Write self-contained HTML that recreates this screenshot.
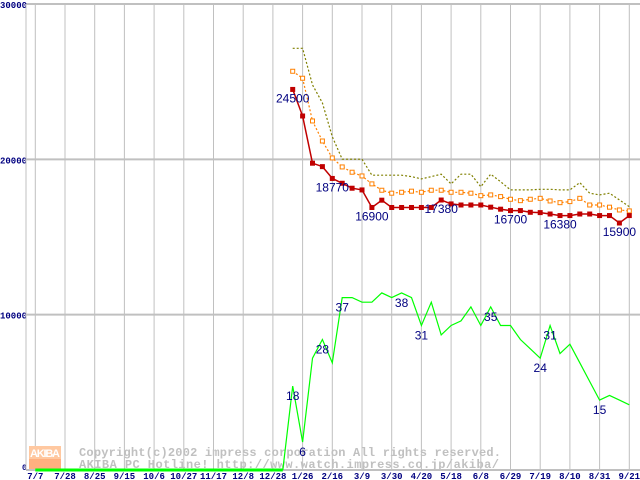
<!DOCTYPE html>
<html><head><meta charset="utf-8"><style>
html,body{margin:0;padding:0;background:#fff;}
svg{display:block;}
</style></head><body>
<svg id="chart" width="640" height="480" xmlns="http://www.w3.org/2000/svg"></svg>
<script>
const tickLabels=["7/7","7/28","8/25","9/15","10/6","10/27","11/17","12/8","12/28","1/26","2/16","3/9","3/30","4/20","5/18","6/8","6/29","7/19","8/10","8/31","9/21"];
const yTicks=[0,10000,20000,30000];
const priceStart=26;
const minPrice=[24500,22790,19750,19530,18770,18460,18140,18030,16900,17370,16900,16900,16900,16900,16900,17380,17130,17060,17060,17060,16920,16790,16700,16700,16590,16570,16480,16380,16380,16480,16480,16380,16380,15900,16380];
const avgPrice=[25670,25220,22470,21180,20090,19510,19170,18930,18420,18010,17820,17880,17950,17880,18010,18010,17880,17880,17820,17660,17710,17600,17430,17340,17430,17490,17320,17210,17280,17490,17060,17060,16920,16740,16680];
const maxPrice=[27150,27150,24790,23630,21460,20010,20010,20010,18980,18980,18980,18980,18890,18740,18890,19040,18420,19040,19040,18240,19040,18560,18030,18030,18030,18070,18070,18030,18030,18500,17820,17710,17820,17390,16950];
const shopCount=[0,0,0,0,0,0,0,0,0,0,0,0,0,0,0,0,0,0,0,0,0,0,0,0,0,0,18,6,24,28,23,37,37,36,36,38,37,38,37,31,36,29,31,32,35,31,35,31,31,28,26,24,31,25,27,23,19,15,16,15,14];
const priceLabelIdx=[26,30,34,41,48,53,59];
const priceLabelText=["24500","18770","16900","17380","16700","16380","15900"];
const countLabelIdx=[26,27,29,31,37,39,46,51,52,57];
const countLabelText=["18","6","28","37","38","31","35","24","31","15"];
const NS="http://www.w3.org/2000/svg";
const svg=document.getElementById('chart');
const X0=35.3,DX=9.9,Y0=470,YT=4;
function xs(i){return X0+i*DX;}
function ys(v){return Y0-(v/30000)*(Y0-YT);}
function yc(c){return ys(c*300);}
function mk(t,a){const e=document.createElementNS(NS,t);for(const k in a)e.setAttribute(k,a[k]);svg.appendChild(e);return e;}
// grid
yTicks.forEach((v,k)=>{
  const l=mk('line',{x1:26,x2:640,y1:ys(v),y2:ys(v),stroke:'#c0c0c0','stroke-width':2});
  
  
  const t=mk('text',{x:v===0?22:0,y:ys(v)+(v===0?0:4),'font-family':'Liberation Mono, monospace','font-size':v===0?8:9,'font-weight':'bold',fill:'#000080'});
  t.textContent=String(v);
  
  
});
const ax=mk('line',{x1:26,x2:26,y1:4,y2:470,stroke:'#c0c0c0','stroke-width':1});


tickLabels.forEach((lab,k)=>{
  const x=xs(k*3);
  const l=mk('line',{x1:x,x2:x,y1:4,y2:470,stroke:'#c0c0c0','stroke-width':1});
  
  
  const t=mk('text',{x:x,y:479,'text-anchor':'middle','font-family':'Liberation Mono, monospace','font-size':9,'font-weight':'bold',fill:'#000080'});
  t.textContent=lab;
  
  
});
// watermark
const lg=mk('rect',{x:29,y:446,width:32,height:13,fill:'#ffc8a0'});


const lg2=mk('rect',{x:29,y:459,width:32,height:10,fill:'#ffb080'});


const lt=mk('text',{x:30,y:457,'font-family':'Liberation Sans, sans-serif','font-size':11,'font-weight':'bold',fill:'#fff',textLength:30});
lt.textContent='AKIBA';


const w1=mk('text',{x:79,y:456,'font-family':'Liberation Mono, monospace','font-size':12,'font-weight':'bold',fill:'#c0c0c0',textLength:422,lengthAdjust:'spacing'});
w1.textContent='Copyright(c)2002 impress corporation All rights reserved.';


const w2=mk('text',{x:79,y:468,'font-family':'Liberation Mono, monospace','font-size':12,'font-weight':'bold',fill:'#c0c0c0',textLength:420,lengthAdjust:'spacing'});
w2.textContent='AKIBA PC Hotline!  http://www.watch.impress.co.jp/akiba/';


// series
function pts(arr,start,f){return arr.map((v,i)=>xs(start+i).toFixed(1)+','+f(v).toFixed(1)).join(' ');}
const g0=mk('polyline',{points:pts(shopCount.slice(0,26),0,yc),fill:'none',stroke:'#00ff00','stroke-width':3});


const g=mk('polyline',{points:pts(shopCount.slice(25),25,yc),fill:'none',stroke:'#00ff00','stroke-width':1.2});


const mx=mk('polyline',{points:pts(maxPrice,priceStart,ys),fill:'none',stroke:'#808000','stroke-width':1.2,'stroke-dasharray':'2,2'});


const av=mk('polyline',{points:pts(avgPrice,priceStart,ys),fill:'none',stroke:'#ff8000','stroke-width':1.2,'stroke-dasharray':'2,2'});


avgPrice.forEach((v,i)=>{
  const r=mk('rect',{x:xs(priceStart+i)-2,y:ys(v)-2,width:4,height:4,fill:'#fff',stroke:'#ff8000','stroke-width':1});
  
  
});
const mn=mk('polyline',{points:pts(minPrice,priceStart,ys),fill:'none',stroke:'#c00000','stroke-width':1.5});


minPrice.forEach((v,i)=>{
  const r=mk('rect',{x:xs(priceStart+i)-2.5,y:ys(v)-2.5,width:5,height:5,fill:'#c00000'});
  
  
});
priceLabelIdx.forEach((idx,k)=>{
  const t=mk('text',{x:xs(idx),y:ys(minPrice[idx-priceStart])+13,'text-anchor':'middle','font-family':'Liberation Sans, sans-serif','font-size':12,fill:'#000080'});
  t.textContent=priceLabelText[k];
  
  
});
countLabelIdx.forEach((idx,k)=>{
  const t=mk('text',{x:xs(idx),y:yc(shopCount[idx])+14,'text-anchor':'middle','font-family':'Liberation Sans, sans-serif','font-size':12,fill:'#000080'});
  t.textContent=countLabelText[k];
  
  
});
</script>
</body></html>
